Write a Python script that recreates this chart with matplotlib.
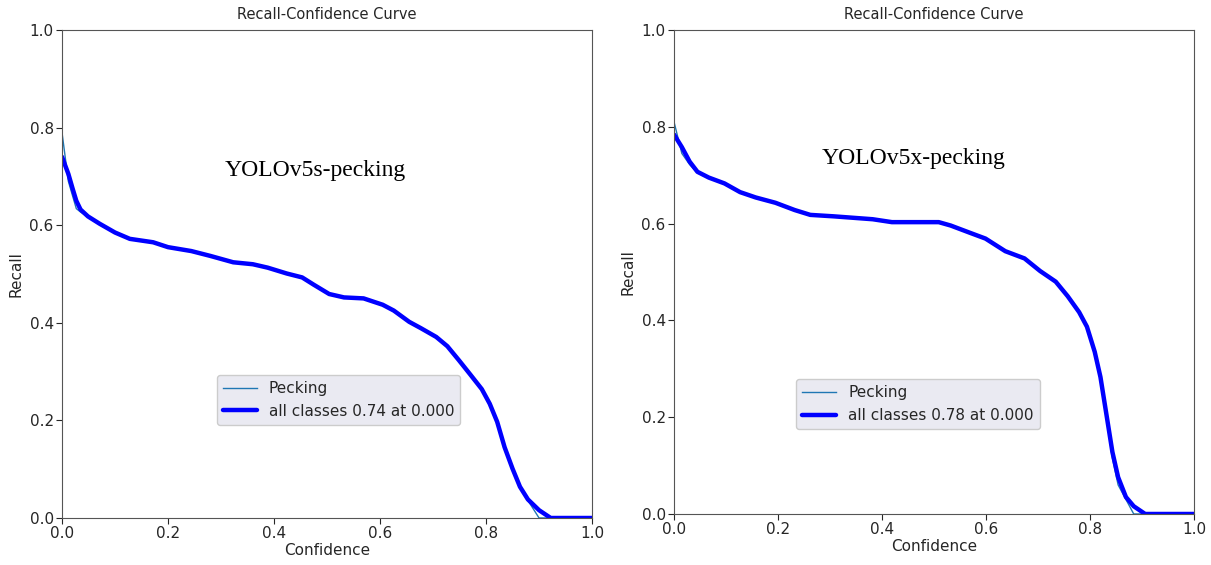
import numpy as np
import matplotlib
matplotlib.use('Agg')
import matplotlib.pyplot as plt

# recall vs confidence, read per model
conf_s = [0.0, 0.012, 0.02, 0.027, 0.035, 0.049, 0.071, 0.1, 0.128, 0.172, 0.2, 0.244,
          0.28, 0.323, 0.36, 0.388, 0.424, 0.453, 0.475, 0.504, 0.532, 0.569, 0.605,
          0.626, 0.655, 0.677, 0.706, 0.727, 0.749, 0.771, 0.792, 0.807, 0.821, 0.835,
          0.85, 0.864, 0.879, 0.9, 0.922, 1.0]
rec_s_all = [0.74, 0.705, 0.675, 0.65, 0.632, 0.618, 0.603, 0.585, 0.572, 0.565, 0.555,
             0.547, 0.537, 0.524, 0.52, 0.513, 0.501, 0.493, 0.478, 0.459, 0.452, 0.45,
             0.437, 0.425, 0.402, 0.389, 0.371, 0.352, 0.323, 0.293, 0.264, 0.234, 0.197,
             0.145, 0.101, 0.064, 0.038, 0.016, 0.0, 0.0]
rec_s_cls = [0.79, 0.69, 0.66, 0.634, 0.627, 0.617, 0.602, 0.584, 0.572, 0.564, 0.555,
             0.546, 0.536, 0.524, 0.519, 0.512, 0.501, 0.492, 0.478, 0.459, 0.451, 0.449,
             0.436, 0.424, 0.402, 0.388, 0.37, 0.352, 0.322, 0.292, 0.262, 0.236, 0.195,
             0.146, 0.098, 0.062, 0.036, 0.0, 0.0, 0.0]

conf_x = [0.0, 0.015, 0.03, 0.045, 0.067, 0.097, 0.127, 0.157, 0.195, 0.232, 0.262, 0.307,
          0.382, 0.419, 0.509, 0.532, 0.569, 0.599, 0.637, 0.674, 0.704, 0.734, 0.757,
          0.779, 0.794, 0.809, 0.82, 0.831, 0.843, 0.854, 0.869, 0.884, 0.906, 1.0]
rec_x_all = [0.784, 0.758, 0.728, 0.707, 0.695, 0.683, 0.665, 0.654, 0.643, 0.628, 0.618,
             0.615, 0.609, 0.603, 0.603, 0.596, 0.581, 0.569, 0.543, 0.528, 0.502, 0.48,
             0.45, 0.417, 0.387, 0.335, 0.283, 0.209, 0.128, 0.076, 0.035, 0.016, 0.0, 0.0]
rec_x_cls = [0.81, 0.745, 0.722, 0.705, 0.694, 0.682, 0.664, 0.653, 0.642, 0.627, 0.617,
             0.614, 0.608, 0.603, 0.602, 0.595, 0.58, 0.568, 0.542, 0.529, 0.501, 0.482,
             0.449, 0.418, 0.39, 0.333, 0.281, 0.205, 0.115, 0.06, 0.03, 0.0, 0.0, 0.0]

panels = [
    ('YOLOv5s-pecking', conf_s, rec_s_cls, rec_s_all, 0.74,
     [0.0512, 0.0832, 0.4377, 0.8637], (0.522, 0.242), (0.477, 0.713)),
    ('YOLOv5x-pecking', conf_x, rec_x_cls, rec_x_all, 0.78,
     [0.5566, 0.0903, 0.4294, 0.8566], (0.469, 0.227), (0.46, 0.735)),
]

fig = plt.figure(figsize=(12.11, 5.65), dpi=100)
txtcol = '#262626'

for name, cx, rc, ra, best, rect, legpos, namepos in panels:
    ax = fig.add_axes(rect)
    ax.plot(cx, rc, color='#1f77b4', linewidth=1, label='Pecking')
    ax.plot(cx, ra, color='blue', linewidth=3.2, solid_joinstyle='round',
            solid_capstyle='round',
            label='all classes {:.2f} at {:.3f}'.format(best, 0.0))
    ax.set_xlim(0, 1)
    ax.set_ylim(0, 1)
    ax.set_xticks([0, 0.2, 0.4, 0.6, 0.8, 1.0])
    ax.set_yticks([0, 0.2, 0.4, 0.6, 0.8, 1.0])
    ax.tick_params(labelsize=11, colors=txtcol, length=4, pad=2)
    for s in ax.spines.values():
        s.set_color('#555555')
    ax.set_xlabel('Confidence', fontsize=11, color=txtcol, labelpad=1)
    ax.set_ylabel('Recall', fontsize=11, color=txtcol)
    ax.set_title('Recall-Confidence Curve', fontsize=10.5, color=txtcol, pad=8)
    leg = ax.legend(loc='center', bbox_to_anchor=legpos, fontsize=11,
                    facecolor='#eaeaf2', edgecolor='#cccccc', framealpha=1,
                    handlelength=2.2)
    for t in leg.get_texts():
        t.set_color(txtcol)
    ax.text(namepos[0], namepos[1], name, transform=ax.transAxes, ha='center',
            va='center', fontsize=17, family='Liberation Serif', color='black')

fig.savefig('out.png', dpi=100)
